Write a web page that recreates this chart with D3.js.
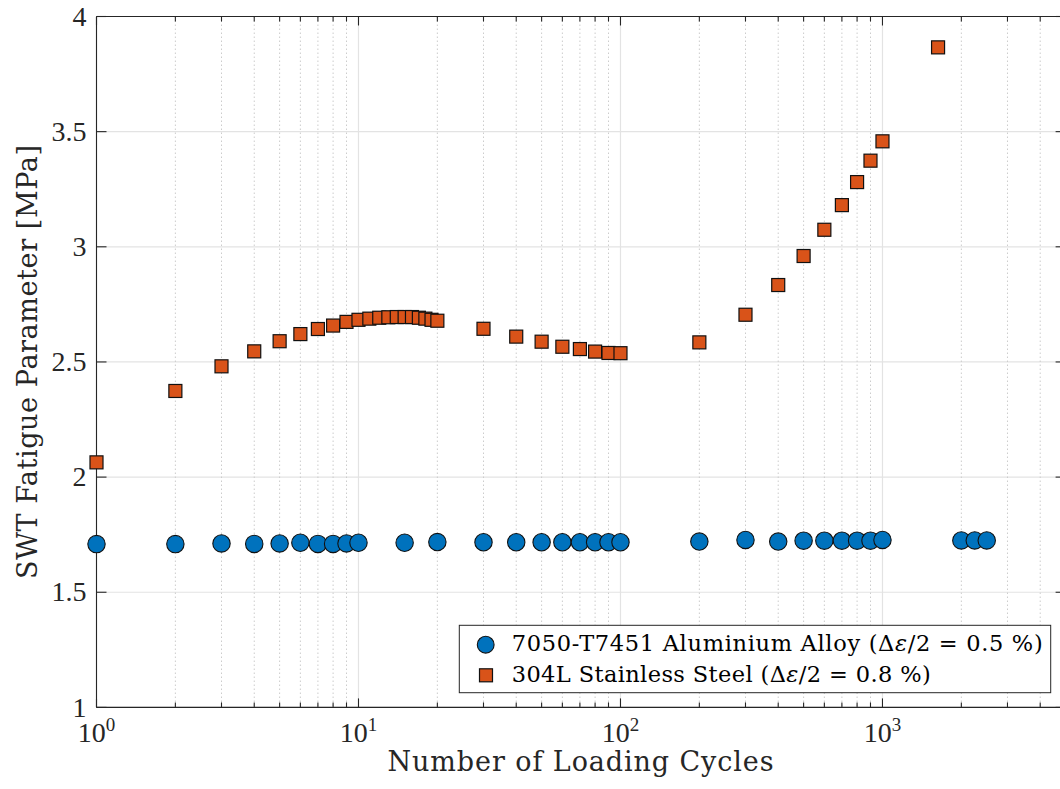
<!DOCTYPE html>
<html><head><meta charset="utf-8">
<script src="https://cdn.jsdelivr.net/npm/d3@7"></script>
<style>body{margin:0;background:#fff}svg{display:block}</style>
</head><body>
<svg id="chart" width="1060" height="789"></svg>
<script>
// ---- data ----
const alCycles = [1,2,3,4,5,6,7,8,9,10,15,20,30,40,50,60,70,80,90,100,200,300,400,500,600,700,800,900,1000,2000,2250,2500];
const alSWT    = [1.709,1.709,1.712,1.710,1.712,1.715,1.710,1.710,1.712,1.715,1.715,1.718,1.717,1.717,1.717,1.717,1.717,1.717,1.717,1.717,1.720,1.727,1.720,1.724,1.724,1.724,1.724,1.724,1.727,1.725,1.725,1.725];
const stCycles = [1,2,3,4,5,6,7,8,9,10,11,12,13,14,15,16,17,18,19,20,30,40,50,60,70,80,90,100,200,300,400,500,600,700,800,900,1000,1630];
const stSWT    = [2.064,2.374,2.481,2.546,2.590,2.621,2.643,2.658,2.674,2.683,2.688,2.692,2.694,2.695,2.695,2.695,2.692,2.688,2.683,2.679,2.644,2.610,2.588,2.566,2.556,2.545,2.539,2.538,2.585,2.705,2.834,2.960,3.074,3.181,3.281,3.374,3.458,3.866];
const yTickValues = [1,1.5,2,2.5,3,3.5,4];
const yTickLabels = ["1","1.5","2","2.5","3","3.5","4"];
const xMajorValues = [1,10,100,1000];
const xMajorExps = ["0","1","2","3"];
const xDomain = [1,5000];
const yDomain = [1,4];
const xLabel = "Number of Loading Cycles";
const yLabel = "SWT Fatigue Parameter [MPa]";
const legendNames = [["7050-T7451 Aluminium Alloy (Δ","ε","/2 = 0.5 %)"],["304L Stainless Steel (Δ","ε","/2 = 0.8 %)"]];

// ---- layout ----
const L = 96.5, R = 1065.6, T = 16.5, B = 707.4;
const axisCol = "#262626";
const blue = "#0072BD", orange = "#D95319";
const tickFont = "'Liberation Serif','Times New Roman',serif";
const textFont = "'DejaVu Serif',serif";

const svg = d3.select("#chart");
const x = d3.scaleLog().domain(xDomain).range([L, R]);
const y = d3.scaleLinear().domain(yDomain).range([B, T]);

const allXTicks = x.ticks();
const minorX = allXTicks.filter(v => !xMajorValues.includes(v));

// grid
const g = svg.append("g");
g.selectAll(".gy").data(yTickValues).join("line")
  .attr("x1", L).attr("x2", R).attr("y1", d => y(d)).attr("y2", d => y(d))
  .attr("stroke", "#e3e3e3").attr("stroke-width", 1.2);
g.selectAll(".gxm").data(minorX).join("line")
  .attr("x1", d => x(d)).attr("x2", d => x(d)).attr("y1", T).attr("y2", B)
  .attr("stroke", "#cccccc").attr("stroke-width", 1).attr("stroke-dasharray", "1.5,2.5");
g.selectAll(".gx").data(xMajorValues).join("line")
  .attr("x1", d => x(d)).attr("x2", d => x(d)).attr("y1", T).attr("y2", B)
  .attr("stroke", "#e3e3e3").attr("stroke-width", 1.2);

// axes frame
const ax = svg.append("g").attr("stroke", axisCol).attr("stroke-width", 1.1).attr("fill", "none");
ax.append("line").attr("x1", L).attr("x2", L).attr("y1", T).attr("y2", B);
ax.append("line").attr("x1", R).attr("x2", R).attr("y1", T).attr("y2", B);
ax.append("line").attr("x1", L).attr("x2", R).attr("y1", B).attr("y2", B);
ax.append("line").attr("x1", L).attr("x2", R).attr("y1", T).attr("y2", T);

// y ticks (inward both sides)
ax.selectAll(".yt").data(yTickValues).join("line")
  .attr("x1", L).attr("x2", L + 10).attr("y1", d => y(d)).attr("y2", d => y(d));
ax.selectAll(".yt2").data(yTickValues).join("line")
  .attr("x1", R).attr("x2", R - 10).attr("y1", d => y(d)).attr("y2", d => y(d));
// x ticks
ax.selectAll(".xtb").data(allXTicks).join("line")
  .attr("x1", d => x(d)).attr("x2", d => x(d)).attr("y1", B)
  .attr("y2", d => B - (xMajorValues.includes(d) ? 9 : 5));
ax.selectAll(".xtt").data(allXTicks).join("line")
  .attr("x1", d => x(d)).attr("x2", d => x(d)).attr("y1", T)
  .attr("y2", d => T + (xMajorValues.includes(d) ? 9 : 5));

// tick labels
svg.append("g").selectAll("text").data(yTickValues).join("text")
  .attr("x", L - 10).attr("y", d => y(d)).attr("dy", "0.33em")
  .attr("text-anchor", "end").attr("font-family", tickFont).attr("font-size", 28)
  .attr("fill", axisCol).text((d, i) => yTickLabels[i]);

const xl = svg.append("g").selectAll("text").data(xMajorValues).join("text")
  .attr("x", d => x(d)).attr("y", 742)
  .attr("text-anchor", "middle").attr("font-family", tickFont).attr("font-size", 28)
  .attr("fill", axisCol);
xl.append("tspan").text("10");
xl.append("tspan").attr("dy", -11).attr("font-size", 19).text((d, i) => xMajorExps[i]);

// axis labels
svg.append("text").attr("x", (L + R) / 2 - 0.5).attr("y", 771)
  .attr("text-anchor", "middle").attr("font-family", textFont).attr("font-size", 27)
  .attr("fill", axisCol).attr("textLength", 386).attr("lengthAdjust", "spacing").text(xLabel);
svg.append("text").attr("transform", `translate(37,${(T + B) / 2})rotate(-90)`)
  .attr("text-anchor", "middle").attr("font-family", textFont).attr("font-size", 27)
  .attr("fill", axisCol).attr("textLength", 434).attr("lengthAdjust", "spacing").text(yLabel);

// data markers
const alData = alCycles.map((c, i) => [c, alSWT[i]]);
const stData = stCycles.map((c, i) => [c, stSWT[i]]);
svg.append("g").selectAll("circle").data(alData).join("circle")
  .attr("cx", d => x(d[0])).attr("cy", d => y(d[1])).attr("r", 8.7)
  .attr("fill", blue).attr("stroke", "#111").attr("stroke-width", 1.1);
const s = 13;
svg.append("g").selectAll("rect").data(stData).join("rect")
  .attr("x", d => x(d[0]) - s / 2).attr("y", d => y(d[1]) - s / 2)
  .attr("width", s).attr("height", s)
  .attr("fill", orange).attr("stroke", "#111").attr("stroke-width", 1.2);

// legend
const lg = svg.append("g");
lg.append("rect").attr("x", 459.3).attr("y", 625.3).attr("width", 591.4).attr("height", 67.4)
  .attr("fill", "#fff").attr("stroke", axisCol).attr("stroke-width", 1);
lg.append("circle").attr("cx", 485.7).attr("cy", 644.7).attr("r", 8.4)
  .attr("fill", blue).attr("stroke", "#111").attr("stroke-width", 1.1);
lg.append("rect").attr("x", 486 - 6.5).attr("y", 675.3 - 6.5).attr("width", 13).attr("height", 13)
  .attr("fill", orange).attr("stroke", "#111").attr("stroke-width", 1.2);
const lgW = [531, 419];
const lgY = [651, 682];
legendNames.forEach((parts, i) => {
  const t = lg.append("text").attr("x", 511.7).attr("y", lgY[i])
    .attr("font-family", textFont).attr("font-size", 22.5).attr("fill", "#000")
    .attr("textLength", lgW[i]).attr("lengthAdjust", "spacing");
  t.append("tspan").text(parts[0]);
  t.append("tspan").attr("font-style", "italic").text(parts[1]);
  t.append("tspan").text(parts[2]);
});
</script>
</body></html>
